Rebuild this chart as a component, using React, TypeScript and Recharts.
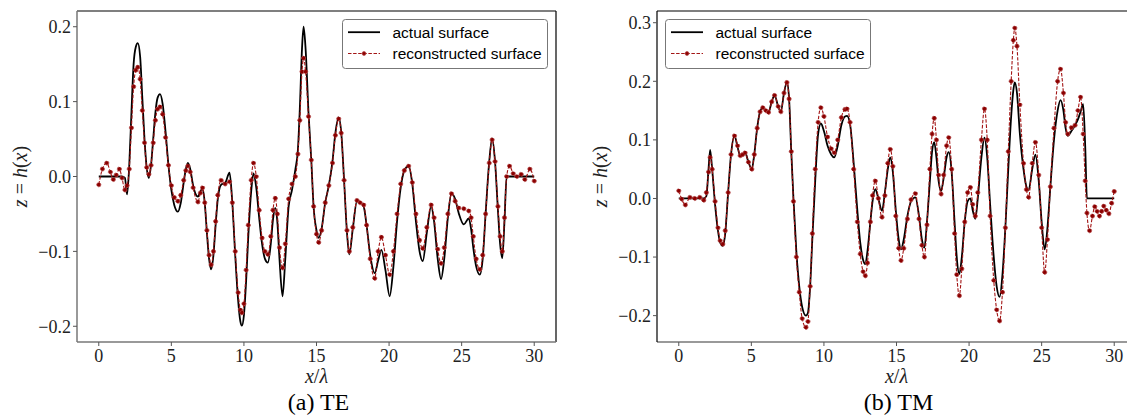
import { LineChart, Line, XAxis, YAxis, ReferenceLine } from "recharts";

// (a) TE panel
const teX = [
  0, 0.25, 0.55, 0.8, 1.0, 1.2, 1.42, 1.6, 1.8, 1.95,
  2.1, 2.25, 2.4, 2.55, 2.69, 2.85, 3.0, 3.15, 3.3, 3.45,
  3.6, 3.75, 3.9, 4.05, 4.22, 4.4, 4.6, 4.8, 5.0, 5.2,
  5.45, 5.65, 5.85, 6.0, 6.14, 6.3, 6.5, 6.83, 7.0, 7.15,
  7.3, 7.45, 7.6, 7.74, 7.9, 8.05, 8.2, 8.43, 8.7, 9.01,
  9.2, 9.4, 9.6, 9.75, 9.86, 10.0, 10.15, 10.3, 10.5, 10.66,
  10.85, 11.05, 11.25, 11.45, 11.65, 11.85, 12.0, 12.16, 12.3, 12.45,
  12.66, 12.85, 13.08, 13.31, 13.54, 13.72, 13.85, 14.0, 14.11, 14.25,
  14.45, 14.64, 14.8, 15.0, 15.15, 15.35, 15.6, 15.85, 16.1, 16.3,
  16.53, 16.7, 16.9, 17.1, 17.26, 17.5, 17.79, 18.0, 18.25, 18.45,
  18.7, 19.01, 19.25, 19.47, 19.75, 20.04, 20.3, 20.55, 20.8, 21.05,
  21.35, 21.6, 21.85, 22.1, 22.32, 22.6, 22.9, 23.1, 23.35, 23.58,
  23.8, 24.05, 24.3, 24.55, 24.8, 25.15, 25.49, 25.65, 25.8, 26.0,
  26.25, 26.45, 26.65, 26.9, 27.1, 27.3, 27.5, 27.65, 27.8, 27.95,
  28.1, 28.3, 28.55, 28.8, 29.1, 29.35, 29.7, 30.0,
];
const teActual = [
  0, 0, 0, 0, 0, 0, 0, 0, -0.002, -0.024,
  0.015, 0.085, 0.15, 0.173, 0.178, 0.16, 0.105, 0.05, 0.012, -0.002,
  0.015, 0.05, 0.085, 0.105, 0.11, 0.097, 0.06, 0.015, -0.018, -0.038,
  -0.047, -0.035, -0.008, 0.01, 0.018, 0.01, -0.012, -0.027, -0.02, -0.016,
  -0.035, -0.075, -0.11, -0.124, -0.105, -0.065, -0.03, -0.011, -0.009, 0.005,
  -0.035, -0.105, -0.165, -0.193, -0.199, -0.185, -0.14, -0.08, -0.02, 0.004,
  -0.015, -0.055, -0.09, -0.11, -0.115, -0.09, -0.058, -0.042, -0.06, -0.11,
  -0.16, -0.11, -0.04, -0.018, 0.009, 0.036, 0.09, 0.17, 0.2, 0.17,
  0.085, 0.022, -0.04, -0.072, -0.082, -0.07, -0.035, -0.012, 0.02, 0.058,
  0.079, 0.06, -0.005, -0.075, -0.104, -0.07, -0.033, -0.034, -0.04, -0.065,
  -0.105, -0.129, -0.112, -0.098, -0.125, -0.16, -0.12, -0.06, -0.015, 0.008,
  0.014, -0.01, -0.06, -0.1, -0.113, -0.075, -0.04, -0.06, -0.11, -0.137,
  -0.11, -0.055, -0.023, -0.03, -0.049, -0.064, -0.056, -0.07, -0.095, -0.12,
  -0.131, -0.11, -0.05, 0.02, 0.051, 0.02, -0.045, -0.09, -0.109, -0.06,
  0, 0, 0, 0, 0, 0, 0, 0,
];
const teRecon = [
  -0.011, 0.01, 0.018, 0.006, -0.004, 0.002, 0.01, -0.002, -0.018, -0.012,
  0.01, 0.065, 0.12, 0.142, 0.146, 0.13, 0.088, 0.045, 0.012, 0.003,
  0.015, 0.045, 0.075, 0.09, 0.093, 0.083, 0.052, 0.015, -0.012, -0.028,
  -0.033, -0.025, -0.005, 0.008, 0.014, 0.006, -0.015, -0.034, -0.022, -0.015,
  -0.035, -0.072, -0.105, -0.118, -0.1, -0.06, -0.025, -0.005, -0.01, -0.007,
  -0.035, -0.1, -0.155, -0.178, -0.182, -0.17, -0.125, -0.065, -0.005, 0.018,
  0.0, -0.045, -0.082, -0.1, -0.104, -0.08, -0.045, -0.029, -0.05, -0.095,
  -0.122, -0.09, -0.03, -0.01, 0.0, 0.03, 0.075, 0.14, 0.158, 0.14,
  0.08, 0.022, -0.04, -0.077, -0.088, -0.072, -0.035, -0.012, 0.018, 0.055,
  0.077, 0.058, -0.005, -0.072, -0.1, -0.068, -0.032, -0.035, -0.038, -0.065,
  -0.11, -0.136, -0.1, -0.081, -0.105, -0.131, -0.1, -0.05, -0.01, 0.008,
  0.014, -0.008, -0.05, -0.085, -0.096, -0.068, -0.038, -0.055, -0.097, -0.116,
  -0.095, -0.05, -0.023, -0.033, -0.042, -0.043, -0.046, -0.055, -0.08, -0.11,
  -0.124, -0.105, -0.05, 0.018, 0.049, 0.02, -0.04, -0.08, -0.1, -0.055,
  0.0, 0.014, 0.004, 0.0, 0.003, -0.004, 0.01, -0.006,
];

// (b) TM panel
const tmX = [
  0, 0.2, 0.45, 0.77, 1.1, 1.45, 1.72, 1.9, 2.05, 2.16,
  2.3, 2.5, 2.7, 2.85, 3.03, 3.2, 3.4, 3.6, 3.84, 4.05,
  4.23, 4.4, 4.57, 4.8, 5.03, 5.2, 5.4, 5.6, 5.79, 6.0,
  6.18, 6.4, 6.6, 6.85, 7.03, 7.25, 7.45, 7.6, 7.75, 7.9,
  8.1, 8.3, 8.5, 8.76, 8.9, 9.05, 9.2, 9.4, 9.6, 9.79,
  10.0, 10.25, 10.5, 10.71, 10.95, 11.2, 11.45, 11.59, 11.8, 12.05,
  12.3, 12.5, 12.7, 12.85, 13.0, 13.2, 13.35, 13.54, 13.75, 14.0,
  14.2, 14.4, 14.57, 14.75, 14.95, 15.15, 15.31, 15.5, 15.75, 16.0,
  16.3, 16.55, 16.75, 16.92, 17.1, 17.3, 17.45, 17.6, 17.75, 17.9,
  18.07, 18.25, 18.45, 18.6, 18.8, 19.0, 19.15, 19.33, 19.5, 19.7,
  19.9, 20.09, 20.25, 20.43, 20.6, 20.85, 21.06, 21.25, 21.45, 21.7,
  21.9, 22.1, 22.3, 22.5, 22.7, 22.9, 23.05, 23.15, 23.3, 23.5,
  23.75, 23.95, 24.1, 24.35, 24.57, 24.8, 25.0, 25.21, 25.4, 25.6,
  25.85, 26.1, 26.3, 26.5, 26.65, 26.8, 27.05, 27.3, 27.5, 27.68,
  27.86, 28.0, 28.12, 28.3, 28.5, 28.66, 28.82, 28.98, 29.13, 29.28,
  29.45, 29.63, 29.82, 30.0,
];
const tmActual = [
  0, 0, 0, 0, 0, 0, 0, 0.004, 0.05, 0.083,
  0.05, -0.01, -0.055, -0.075, -0.081, -0.06, 0.01, 0.075, 0.107, 0.088,
  0.073, 0.074, 0.078, 0.062, 0.05, 0.075, 0.12, 0.148, 0.155, 0.15,
  0.147, 0.165, 0.176, 0.157, 0.148, 0.18, 0.198, 0.17, 0.08, 0.0,
  -0.09, -0.15, -0.185, -0.2, -0.195, -0.15, -0.07, 0.03, 0.11, 0.128,
  0.115, 0.09, 0.075, 0.07, 0.09, 0.125, 0.14, 0.141, 0.127, 0.06,
  -0.02, -0.075, -0.105, -0.112, -0.09, -0.04, -0.005, 0.016, 0.0, -0.021,
  0.01, 0.05, 0.07, 0.045, -0.02, -0.07, -0.087, -0.07, -0.03, -0.005,
  0.002, -0.03, -0.07, -0.084, -0.04, 0.03, 0.08, 0.096, 0.07, 0.03,
  0.013, 0.035, 0.07, 0.079, 0.045, -0.04, -0.1, -0.129, -0.1, -0.04,
  -0.005, 0.0, -0.02, -0.035, 0.0, 0.07, 0.104, 0.07, -0.01, -0.1,
  -0.15, -0.168, -0.13, -0.05, 0.05, 0.14, 0.185, 0.198, 0.18, 0.11,
  0.05, 0.02, 0.014, 0.05, 0.075, 0.03, -0.04, -0.087, -0.05, 0.02,
  0.1, 0.15, 0.168, 0.15, 0.12, 0.107, 0.115, 0.125, 0.135, 0.148,
  0.161, 0.09, 0.0, 0, 0, 0, 0, 0, 0, 0,
  0, 0, 0, 0,
];
const tmRecon = [
  0.013, -0.001, -0.011, 0.002, 0.0, 0.002, -0.003, 0.01, 0.045, 0.07,
  0.05, -0.005, -0.05, -0.072, -0.078, -0.055, 0.01, 0.075, 0.107, 0.09,
  0.073, 0.075, 0.078, 0.062, 0.05, 0.075, 0.12, 0.148, 0.155, 0.15,
  0.147, 0.165, 0.176, 0.157, 0.148, 0.18, 0.198, 0.17, 0.08, -0.005,
  -0.1, -0.16, -0.205, -0.22, -0.21, -0.15, -0.06, 0.05, 0.13, 0.155,
  0.14, 0.105, 0.085, 0.078, 0.1, 0.138, 0.152, 0.153, 0.13, 0.05,
  -0.04, -0.095, -0.125, -0.132, -0.11, -0.04, 0.005, 0.03, 0.0, -0.032,
  0.005, 0.06, 0.084, 0.055, -0.03, -0.085, -0.106, -0.085, -0.035, -0.002,
  0.0085, -0.035, -0.08, -0.1, -0.045, 0.05, 0.11, 0.137, 0.1, 0.04,
  0.0075, 0.04, 0.09, 0.104, 0.05, -0.06, -0.13, -0.166, -0.12, -0.04,
  0.01, 0.019, -0.01, -0.03, 0.01, 0.1, 0.153, 0.1, -0.03, -0.14,
  -0.19, -0.209, -0.16, -0.05, 0.08, 0.2, 0.27, 0.291, 0.26, 0.16,
  0.06, 0.015, 0.002, 0.06, 0.096, 0.04, -0.05, -0.126, -0.07, 0.02,
  0.12, 0.2, 0.221, 0.18, 0.13, 0.11, 0.121, 0.125, 0.15, 0.173,
  0.11, 0.03, -0.025, -0.055, -0.03, -0.014, -0.022, -0.03, -0.022, -0.013,
  -0.02, -0.026, -0.008, 0.012,
];

const xTicks = [0, 5, 10, 15, 20, 25, 30];
const teYTicks = [-0.2, -0.1, 0, 0.1, 0.2];
const tmYTicks = [-0.2, -0.1, 0, 0.1, 0.2, 0.3];
const legendNames = ["actual surface", "reconstructed surface"];

const serif = "Liberation Serif";
const sans = "Liberation Sans";
const RED = "#a31515";

const fmtY = (v: number) => (v < 0 ? "\u2212" : "") + Math.abs(v).toFixed(1);

const xLabel = (props: any, caption: string) => {
  const vb = props.viewBox || { x: 77, y: 342, width: 479 };
  const cx = vb.x + vb.width / 2;
  return (
    <g>
      <text x={cx} y={vb.y + 41} textAnchor="middle" fontFamily={serif} fontSize={20} fill="#222">
        <tspan fontStyle="italic">x</tspan>
        <tspan>/</tspan>
        <tspan fontStyle="italic">λ</tspan>
      </text>
      <text x={cx + 2} y={vb.y + 68} textAnchor="middle" fontFamily={serif} fontSize={24} fill="#000">
        {caption}
      </text>
    </g>
  );
};

const yLabel = (props: any) => {
  const vb = props.viewBox || { x: 17, y: 11, height: 331 };
  const cx = vb.x + 10;
  const cy = vb.y + vb.height / 2;
  return (
    <text transform={`translate(${cx},${cy}) rotate(-90)`} textAnchor="middle" fontFamily={serif} fontSize={20} fill="#222">
      <tspan fontStyle="italic">z</tspan>
      <tspan> = </tspan>
      <tspan fontStyle="italic">h</tspan>
      <tspan>(</tspan>
      <tspan fontStyle="italic">x</tspan>
      <tspan>)</tspan>
    </text>
  );
};

const LegendBox = ({ left }: { left: number }) => (
  <svg width={206} height={50} style={{ position: "absolute", left, top: 18.5 }}>
    <rect x={0.5} y={0.5} width={205} height={49} rx={3} fill="#fff" fillOpacity={0.85} stroke="#777" />
    <line x1={6} x2={38} y1={13.2} y2={13.2} stroke="#000" strokeWidth={1.8} />
    <text x={50.5} y={13.2} dy="0.36em" fontFamily={sans} fontSize={15.5} fill="#000">
      {legendNames[0]}
    </text>
    <line x1={6} x2={38} y1={34.5} y2={34.5} stroke={RED} strokeWidth={1} strokeDasharray="3.5 1.6" />
    <circle cx={22} cy={34.5} r={1.9} fill="#8b0000" stroke="#b54a4a" strokeWidth={0.8} />
    <text x={50.5} y={34.5} dy="0.36em" fontFamily={sans} fontSize={15.5} fill="#000">
      {legendNames[1]}
    </text>
  </svg>
);

type PanelProps = {
  x: number[];
  actual: number[];
  recon: number[];
  yDomain: [number, number];
  yTicks: number[];
  caption: string;
  leftSpine: { stroke: string; strokeWidth: number };
};

const Panel = ({ x, actual, recon, yDomain, yTicks, caption, leftSpine }: PanelProps) => {
  const data = x.map((v, i) => ({ x: v, actual: actual[i], recon: recon[i] }));
  return (
    <LineChart width={560} height={417} data={data} margin={{ top: 11, right: 4, bottom: 45, left: 17 }}>
      <XAxis
        type="number"
        dataKey="x"
        domain={[-1.5, 31.5]}
        ticks={xTicks}
        interval={0}
        allowDataOverflow
        height={30}
        tickSize={4}
        tickMargin={3}
        axisLine={{ stroke: "#777", strokeWidth: 1.5 }}
        tickLine={{ stroke: "#555" }}
        tick={{ fontFamily: serif, fontSize: 18, fill: "#222" }}
        label={{ content: (p: any) => xLabel(p, caption) }}
      />
      <YAxis
        type="number"
        domain={yDomain}
        ticks={yTicks}
        interval={0}
        allowDataOverflow
        width={60}
        tickSize={4}
        tickMargin={2}
        tickFormatter={fmtY}
        axisLine={leftSpine}
        tickLine={{ stroke: "#555" }}
        tick={{ fontFamily: serif, fontSize: 18, fill: "#222" }}
        label={{ content: yLabel }}
      />
      <ReferenceLine y={yDomain[1]} stroke="#000" strokeWidth={1.2} />
      <ReferenceLine x={31.5} stroke="#000" strokeWidth={1.2} />
      <Line type="monotone" dataKey="actual" stroke="#000" strokeWidth={1.8} dot={false} isAnimationActive={false} />
      <Line
        type="monotone"
        dataKey="recon"
        stroke={RED}
        strokeWidth={1.1}
        strokeDasharray="3.5 1.6"
        dot={{ r: 2.1, fill: "#8b0000", stroke: "#b54a4a", strokeWidth: 0.8 }}
        isAnimationActive={false}
      />
    </LineChart>
  );
};

export default function App() {
  return (
    <div style={{ position: "absolute", left: 0, top: 0, width: 1127, height: 417, overflow: "hidden", background: "#fff" }}>
      <div style={{ position: "absolute", left: 0, top: 0 }}>
        <Panel
          x={teX}
          actual={teActual}
          recon={teRecon}
          yDomain={[-0.221, 0.221]}
          yTicks={teYTicks}
          caption="(a) TE"
          leftSpine={{ stroke: "#777", strokeWidth: 1.5 }}
        />
      </div>
      <div style={{ position: "absolute", left: 580, top: 0 }}>
        <Panel
          x={tmX}
          actual={tmActual}
          recon={tmRecon}
          yDomain={[-0.245, 0.32]}
          yTicks={tmYTicks}
          caption="(b) TM"
          leftSpine={{ stroke: "#000", strokeWidth: 1.2 }}
        />
      </div>
      <LegendBox left={342} />
      <LegendBox left={665} />
    </div>
  );
}
